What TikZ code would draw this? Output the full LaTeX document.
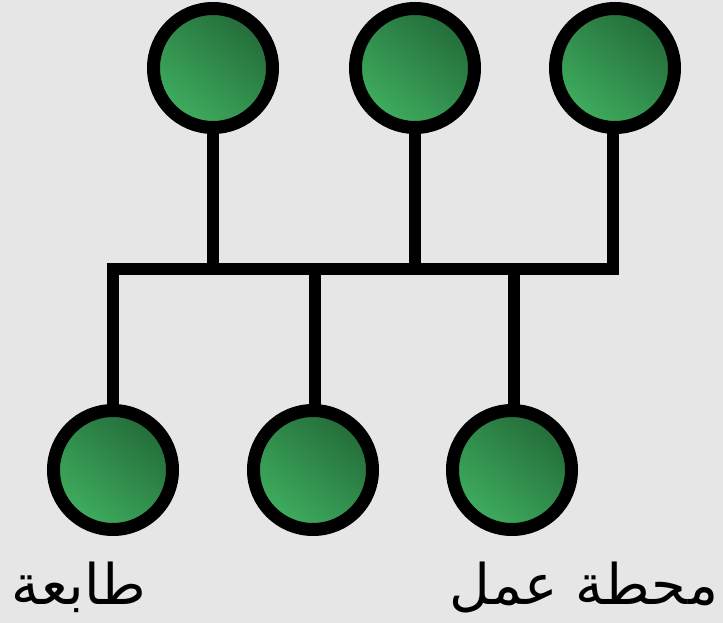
\documentclass[tikz,border=0pt]{standalone}
\usepackage{fontspec}
\newfontfamily\arabicfont[Script=Arabic]{DejaVu Sans}
\TeXXeTstate=1
\definecolor{bg}{HTML}{E6E6E6}
\definecolor{nodedark}{HTML}{236B39}
\definecolor{nodelight}{HTML}{3FAE5F}
\tikzset{
  station/.style={circle, inner sep=0pt, minimum size=119pt, draw=black,
    line width=13pt, top color=nodedark, bottom color=nodelight, shading angle=-40},
  wire/.style={draw=black, line width=12pt, line join=miter},
  label/.style={font=\arabicfont\fontsize{56}{60}\selectfont, inner sep=0pt}
}
\begin{document}
\begin{tikzpicture}[x=1pt, y=-1pt]
  \fill[bg] (0,0) rectangle (723,623);
  \useasboundingbox (0,0) rectangle (723,623);
  % bus junctions
  \coordinate (j1) at (113,269);
  \coordinate (j2) at (213,269);
  \coordinate (j3) at (315,269);
  \coordinate (j4) at (415,269);
  \coordinate (j5) at (514,269);
  \coordinate (j6) at (613,269);
  % wires (drawn first, stations cover their ends)
  \path[wire] (113,470) -- (j1) -- (j6) -- (613,68);
  \path[wire] (213,68) -- (j2);
  \path[wire] (415,68) -- (j4);
  \path[wire] (j3) -- (315,470);
  \path[wire] (j5) -- (514,470);
  % stations
  \node[station] (t1) at (213,68) {};
  \node[station] (t2) at (415,68) {};
  \node[station] (t3) at (615,68) {};
  \node[station] (b1) at (113,470) {};
  \node[station] (b2) at (313,470) {};
  \node[station] (b3) at (512,470) {};
  % labels
  \node[label] (printer) at (79,587) {\beginR طابعة\endR};
  \node[label] (workstation) at (584,587) {\beginR محطة عمل\endR};
\end{tikzpicture}
\end{document}
